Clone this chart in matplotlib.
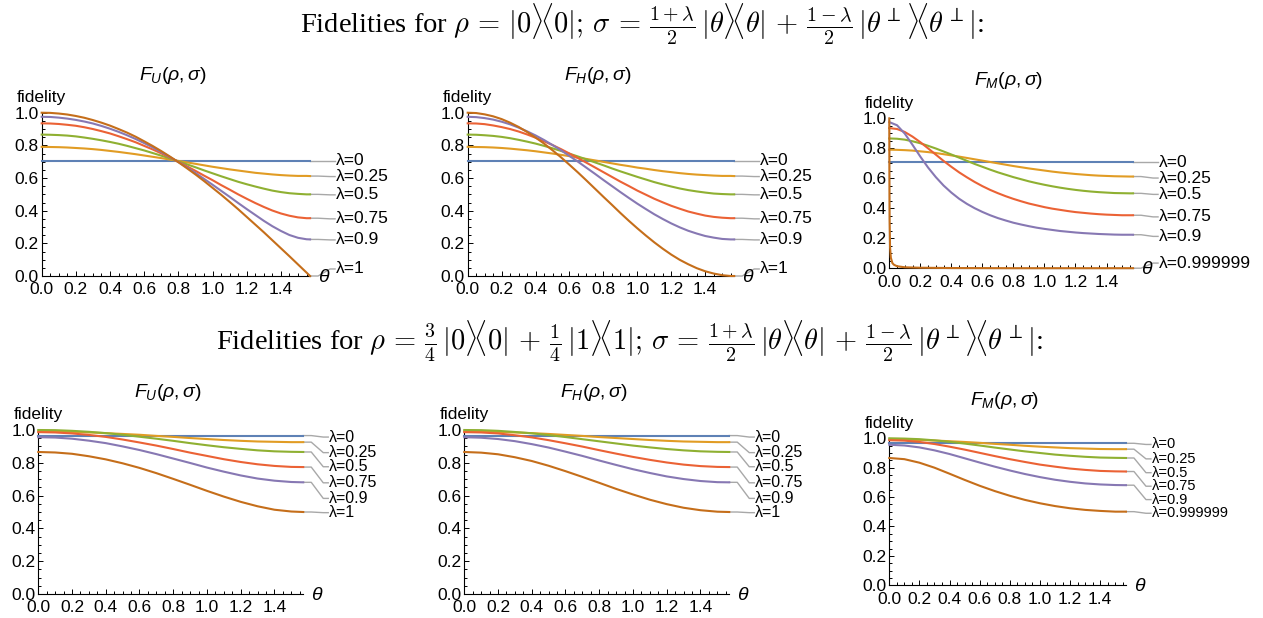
import matplotlib
matplotlib.use("Agg")
import matplotlib.pyplot as plt
from matplotlib.ticker import MultipleLocator

plt.rcParams['font.family'] = ['Liberation Sans', 'DejaVu Sans']
plt.rcParams['mathtext.fontset'] = 'custom'
plt.rcParams['mathtext.rm'] = 'Liberation Sans'
plt.rcParams['mathtext.it'] = 'Liberation Sans:italic'

HALF_PI = 1.5708

# theta samples (rad) read along the x axis
# top row curves bend a lot, so they are read every 0.05
theta_fine = [0.0, 0.05, 0.1, 0.15, 0.2, 0.25, 0.3, 0.35, 0.4, 0.45, 0.5, 0.55,
              0.6, 0.65, 0.7, 0.75, 0.8, 0.85, 0.9, 0.95, 1.0, 1.05, 1.1, 1.15,
              1.2, 1.25, 1.3, 1.35, 1.4, 1.45, 1.5, 1.55, 1.5708]
theta = [0.0, 0.1, 0.2, 0.3, 0.4, 0.5, 0.6, 0.7, 0.8, 0.9, 1.0,
         1.1, 1.2, 1.3, 1.4, 1.5, 1.5708]
# the lambda=0.999999 curve of the top F_M panel falls almost at once
theta_steep = [0.0, 0.001, 0.002, 0.005, 0.01, 0.02, 0.03, 0.05, 0.1,
               0.2, 0.4, 0.8, 1.2, 1.5708]
steep_vals = [1.0, 0.577, 0.333, 0.140, 0.071, 0.035, 0.024, 0.014, 0.007,
              0.004, 0.002, 0.001, 0.001, 0.001]

colors = ['#5E81B5', '#E19C24', '#8FB032', '#EB6235', '#8778B3', '#C56E1A']
lam_names = ['λ=0', 'λ=0.25', 'λ=0.5', 'λ=0.75', 'λ=0.9', 'λ=1']
lam_names_m = ['λ=0', 'λ=0.25', 'λ=0.5', 'λ=0.75', 'λ=0.9', 'λ=0.999999']

# ---- top row: rho = |0><0|   (on theta_fine)
flat_top = [0.707, 0.707, 0.707, 0.707, 0.707, 0.707, 0.707, 0.707, 0.707, 0.707, 0.707,
            0.707, 0.707, 0.707, 0.707, 0.707, 0.707, 0.707, 0.707, 0.707, 0.707, 0.707,
            0.707, 0.707, 0.707, 0.707, 0.707, 0.707, 0.707, 0.707, 0.707, 0.707, 0.707]
fu_top = [
    flat_top,
    [0.791, 0.790, 0.789, 0.787, 0.784, 0.781, 0.777, 0.772, 0.766, 0.760, 0.753, 0.746, 0.738, 0.730, 0.722, 0.713, 0.705,
     0.696, 0.687, 0.678, 0.669, 0.661, 0.653, 0.646, 0.639, 0.632, 0.627, 0.622, 0.618, 0.615, 0.613, 0.613, 0.612],
    [0.866, 0.865, 0.863, 0.860, 0.855, 0.848, 0.840, 0.831, 0.821, 0.810, 0.797, 0.783, 0.769, 0.753, 0.737, 0.720, 0.702,
     0.684, 0.666, 0.647, 0.629, 0.611, 0.594, 0.577, 0.562, 0.548, 0.535, 0.523, 0.514, 0.507, 0.503, 0.500, 0.500],
    [0.935, 0.934, 0.931, 0.926, 0.920, 0.911, 0.900, 0.887, 0.873, 0.856, 0.838, 0.819, 0.797, 0.775, 0.751, 0.726, 0.699,
     0.672, 0.644, 0.615, 0.587, 0.557, 0.529, 0.500, 0.473, 0.447, 0.423, 0.401, 0.383, 0.369, 0.359, 0.354, 0.354],
    [0.975, 0.974, 0.970, 0.964, 0.956, 0.946, 0.934, 0.919, 0.902, 0.883, 0.862, 0.839, 0.814, 0.788, 0.759, 0.729, 0.698,
     0.665, 0.631, 0.595, 0.559, 0.522, 0.485, 0.447, 0.410, 0.374, 0.338, 0.305, 0.276, 0.251, 0.234, 0.225, 0.224],
    [1.000, 0.999, 0.995, 0.989, 0.980, 0.969, 0.955, 0.939, 0.921, 0.900, 0.878, 0.853, 0.825, 0.796, 0.765, 0.732, 0.697,
     0.660, 0.622, 0.582, 0.540, 0.498, 0.454, 0.409, 0.362, 0.315, 0.268, 0.219, 0.170, 0.121, 0.071, 0.021, 0.000],
]
fh_top = [
    flat_top,
    [0.791, 0.790, 0.789, 0.787, 0.784, 0.780, 0.775, 0.770, 0.764, 0.757, 0.750, 0.742, 0.734, 0.725, 0.717, 0.708, 0.699,
     0.690, 0.681, 0.673, 0.664, 0.657, 0.649, 0.642, 0.636, 0.630, 0.625, 0.621, 0.618, 0.615, 0.613, 0.613, 0.612],
    [0.866, 0.865, 0.862, 0.858, 0.852, 0.844, 0.834, 0.823, 0.811, 0.797, 0.782, 0.766, 0.749, 0.732, 0.714, 0.696, 0.678,
     0.659, 0.641, 0.624, 0.607, 0.591, 0.575, 0.561, 0.548, 0.536, 0.526, 0.518, 0.511, 0.505, 0.502, 0.500, 0.500],
    [0.935, 0.934, 0.930, 0.922, 0.912, 0.900, 0.885, 0.867, 0.847, 0.825, 0.802, 0.777, 0.750, 0.722, 0.694, 0.665, 0.636,
     0.607, 0.578, 0.551, 0.523, 0.498, 0.473, 0.451, 0.430, 0.412, 0.395, 0.382, 0.370, 0.362, 0.357, 0.354, 0.354],
    [0.975, 0.973, 0.967, 0.958, 0.945, 0.929, 0.909, 0.886, 0.861, 0.833, 0.802, 0.770, 0.735, 0.700, 0.663, 0.626, 0.588,
     0.551, 0.514, 0.478, 0.443, 0.410, 0.378, 0.349, 0.322, 0.298, 0.277, 0.260, 0.245, 0.235, 0.227, 0.224, 0.224],
    [1.000, 0.998, 0.990, 0.978, 0.961, 0.939, 0.913, 0.882, 0.848, 0.811, 0.770, 0.727, 0.681, 0.634, 0.585, 0.535, 0.485,
     0.436, 0.386, 0.338, 0.292, 0.248, 0.206, 0.167, 0.131, 0.099, 0.072, 0.048, 0.029, 0.015, 0.005, 0.000, 0.000],
]
fm_top = [
    flat_top,
    [0.791, 0.790, 0.788, 0.785, 0.780, 0.775, 0.769, 0.761, 0.753, 0.745, 0.736, 0.727, 0.718, 0.709, 0.700, 0.691, 0.682,
     0.674, 0.666, 0.659, 0.652, 0.645, 0.639, 0.634, 0.629, 0.625, 0.621, 0.618, 0.616, 0.614, 0.613, 0.612, 0.612],
    [0.866, 0.864, 0.858, 0.847, 0.834, 0.817, 0.799, 0.779, 0.759, 0.738, 0.717, 0.696, 0.677, 0.658, 0.640, 0.624, 0.608,
     0.594, 0.580, 0.568, 0.557, 0.547, 0.538, 0.530, 0.523, 0.517, 0.512, 0.508, 0.505, 0.502, 0.501, 0.500, 0.500],
    [0.935, 0.929, 0.909, 0.878, 0.841, 0.800, 0.758, 0.716, 0.677, 0.640, 0.607, 0.576, 0.548, 0.523, 0.501, 0.481, 0.463,
     0.447, 0.432, 0.420, 0.408, 0.398, 0.390, 0.382, 0.375, 0.370, 0.365, 0.361, 0.358, 0.356, 0.354, 0.354, 0.354],
    [0.975, 0.954, 0.898, 0.823, 0.745, 0.672, 0.608, 0.552, 0.505, 0.464, 0.430, 0.401, 0.376, 0.354, 0.335, 0.319, 0.304,
     0.292, 0.281, 0.271, 0.263, 0.256, 0.249, 0.244, 0.239, 0.235, 0.232, 0.229, 0.227, 0.225, 0.224, 0.224, 0.224],
]

# ---- bottom row: rho = 3/4 |0><0| + 1/4 |1><1|   (on theta)
fu_bot = [
    [0.966, 0.966, 0.966, 0.966, 0.966, 0.966, 0.966, 0.966, 0.966, 0.966, 0.966, 0.966, 0.966, 0.966, 0.966, 0.966, 0.966],
    [0.991, 0.990, 0.988, 0.985, 0.981, 0.976, 0.971, 0.964, 0.958, 0.951, 0.945, 0.939, 0.934, 0.930, 0.928, 0.926, 0.926],
    [1.000, 0.999, 0.995, 0.989, 0.981, 0.971, 0.959, 0.947, 0.934, 0.920, 0.907, 0.895, 0.885, 0.876, 0.870, 0.867, 0.866],
    [0.987, 0.985, 0.979, 0.970, 0.958, 0.942, 0.924, 0.905, 0.884, 0.862, 0.842, 0.822, 0.805, 0.791, 0.781, 0.775, 0.774],
    [0.956, 0.954, 0.947, 0.935, 0.920, 0.900, 0.878, 0.853, 0.826, 0.799, 0.771, 0.746, 0.723, 0.704, 0.691, 0.683, 0.681],
    [0.866, 0.863, 0.855, 0.840, 0.821, 0.797, 0.769, 0.737, 0.702, 0.666, 0.629, 0.594, 0.562, 0.535, 0.514, 0.503, 0.500],
]
fh_bot = [
    [0.966, 0.966, 0.966, 0.966, 0.966, 0.966, 0.966, 0.966, 0.966, 0.966, 0.966, 0.966, 0.966, 0.966, 0.966, 0.966, 0.966],
    [0.991, 0.990, 0.988, 0.985, 0.981, 0.976, 0.970, 0.964, 0.957, 0.951, 0.945, 0.939, 0.934, 0.930, 0.928, 0.926, 0.926],
    [1.000, 0.999, 0.995, 0.988, 0.980, 0.969, 0.957, 0.944, 0.931, 0.918, 0.905, 0.894, 0.884, 0.876, 0.870, 0.867, 0.866],
    [0.987, 0.985, 0.979, 0.968, 0.955, 0.938, 0.919, 0.899, 0.877, 0.856, 0.836, 0.818, 0.802, 0.789, 0.780, 0.775, 0.774],
    [0.956, 0.953, 0.945, 0.932, 0.914, 0.893, 0.868, 0.842, 0.814, 0.787, 0.761, 0.738, 0.717, 0.701, 0.689, 0.682, 0.681],
    [0.866, 0.862, 0.852, 0.834, 0.811, 0.782, 0.749, 0.714, 0.678, 0.641, 0.607, 0.575, 0.548, 0.526, 0.511, 0.502, 0.500],
]
fm_bot = [
    [0.966, 0.966, 0.966, 0.966, 0.966, 0.966, 0.966, 0.966, 0.966, 0.966, 0.966, 0.966, 0.966, 0.966, 0.966, 0.966, 0.966],
    [0.991, 0.990, 0.988, 0.985, 0.980, 0.975, 0.969, 0.962, 0.956, 0.949, 0.943, 0.938, 0.933, 0.930, 0.927, 0.926, 0.926],
    [1.000, 0.998, 0.994, 0.986, 0.976, 0.964, 0.951, 0.937, 0.924, 0.911, 0.900, 0.889, 0.881, 0.874, 0.869, 0.867, 0.866],
    [0.987, 0.984, 0.975, 0.961, 0.943, 0.923, 0.901, 0.879, 0.858, 0.839, 0.821, 0.807, 0.794, 0.785, 0.778, 0.775, 0.774],
    [0.956, 0.951, 0.938, 0.918, 0.893, 0.864, 0.835, 0.807, 0.781, 0.757, 0.736, 0.718, 0.704, 0.693, 0.686, 0.682, 0.681],
    [0.866, 0.858, 0.834, 0.800, 0.759, 0.717, 0.677, 0.641, 0.609, 0.581, 0.558, 0.539, 0.524, 0.513, 0.506, 0.501, 0.501],
]

# where the callout labels sit (y, data units)
lab_y_top = [0.707, 0.609, 0.497, 0.350, 0.221, 0.043]
lab_y_top_m = [0.707, 0.602, 0.493, 0.343, 0.213, 0.035]
lab_y_bot = [0.957, 0.862, 0.776, 0.678, 0.583, 0.496]
lab_y_bot_m = [0.958, 0.860, 0.766, 0.674, 0.583, 0.490]

W_PX, H_PX = 1263, 618
FS = 12.5
fig = plt.figure(figsize=(W_PX / 100, H_PX / 100), dpi=100)


def panel(rect, title, curves, names, lab_y, lab_fs):
    ax = fig.add_axes(rect)
    ax.set_xlim(0, HALF_PI)
    ax.set_ylim(0, 1.0)
    ax.patch.set_alpha(0)
    for s in ['top', 'right']:
        ax.spines[s].set_visible(False)
    for s in ['left', 'bottom']:
        ax.spines[s].set_linewidth(0.8)
    ax.xaxis.set_major_locator(MultipleLocator(0.2))
    ax.xaxis.set_minor_locator(MultipleLocator(0.05))
    ax.yaxis.set_major_locator(MultipleLocator(0.2))
    ax.yaxis.set_minor_locator(MultipleLocator(0.05))
    ax.tick_params(which='both', direction='in', labelsize=FS, width=0.7)
    ax.tick_params(axis='x', pad=4.5)
    ax.tick_params(axis='y', pad=2)
    ax.tick_params(which='major', length=3.5)
    ax.tick_params(which='minor', length=2)

    dx = HALF_PI / (rect[2] * W_PX)
    for i, (th, ys) in enumerate(curves):
        ax.plot(th, ys, color=colors[i], lw=1.5, clip_on=False, zorder=3)
        # grey leader line from the end of the curve to its label
        y0, y1 = ys[-1], lab_y[i]
        ax.plot([HALF_PI, HALF_PI + 8 * dx, HALF_PI + 20 * dx, HALF_PI + 25 * dx],
                [y0, y0, y1, y1], color='#a8a8a8', lw=1, clip_on=False, zorder=2)
        ax.text(HALF_PI + 26 * dx, y1, names[i], ha='left', va='center', fontsize=lab_fs)

    ax.annotate('fidelity', xy=(0, 1), xycoords='axes fraction', xytext=(0, 11),
                textcoords='offset points', ha='center', va='center', fontsize=FS)
    ax.annotate(r'$\theta$', xy=(1, 0), xycoords='axes fraction', xytext=(10, -1),
                textcoords='offset points', ha='center', va='center', fontsize=14)
    ax.annotate(title, xy=(0.5, 1), xycoords='axes fraction', xytext=(-2, 27),
                textcoords='offset points', ha='center', va='center', fontsize=14)
    return ax


def pairs(th, series):
    return [(th, ys) for ys in series]


panel([0.0330, 0.5534, 0.2125, 0.2642], r'$F_U(\rho,\sigma)$', pairs(theta_fine, fu_top),
      lam_names, lab_y_top, FS)
panel([0.3703, 0.5534, 0.2110, 0.2642], r'$F_H(\rho,\sigma)$', pairs(theta_fine, fh_top),
      lam_names, lab_y_top, FS)
panel([0.7041, 0.5658, 0.1930, 0.2427], r'$F_M(\rho,\sigma)$',
      pairs(theta_fine, fm_top) + [(theta_steep, steep_vals)], lam_names_m, lab_y_top_m, FS)

panel([0.0303, 0.0388, 0.2098, 0.2654], r'$F_U(\rho,\sigma)$', pairs(theta, fu_bot),
      lam_names, lab_y_bot, 11.5)
panel([0.3676, 0.0388, 0.2098, 0.2654], r'$F_H(\rho,\sigma)$', pairs(theta, fh_bot),
      lam_names, lab_y_bot, 11.5)
panel([0.7041, 0.0529, 0.1874, 0.2379], r'$F_M(\rho,\sigma)$', pairs(theta, fm_bot),
      lam_names_m, lab_y_bot_m, 10.5)

title1 = (r'Fidelities for $\rho \,=\, |0\rangle\!\langle 0|;\, \sigma \,=\, \frac{1+\lambda}{2}\,'
          r'|\theta\rangle\!\langle\theta| \,+\, \frac{1-\lambda}{2}\,'
          r'|\theta^{\perp}\rangle\!\langle\theta^{\perp}|$:')
title2 = (r'Fidelities for $\rho \,=\, \frac{3}{4}\,|0\rangle\!\langle 0| \,+\, \frac{1}{4}\,|1\rangle\!\langle 1|;\,'
          r' \sigma \,=\, \frac{1+\lambda}{2}\,|\theta\rangle\!\langle\theta| \,+\, \frac{1-\lambda}{2}\,'
          r'|\theta^{\perp}\rangle\!\langle\theta^{\perp}|$:')
fig.text(642 / W_PX, 1 - 33 / H_PX, title1, ha='center', va='baseline', fontsize=20.5,
         family='Liberation Serif', math_fontfamily='cm')
fig.text(629 / W_PX, 1 - 350 / H_PX, title2, ha='center', va='baseline', fontsize=20.5,
         family='Liberation Serif', math_fontfamily='cm')

fig.savefig('out.png', dpi=100)
